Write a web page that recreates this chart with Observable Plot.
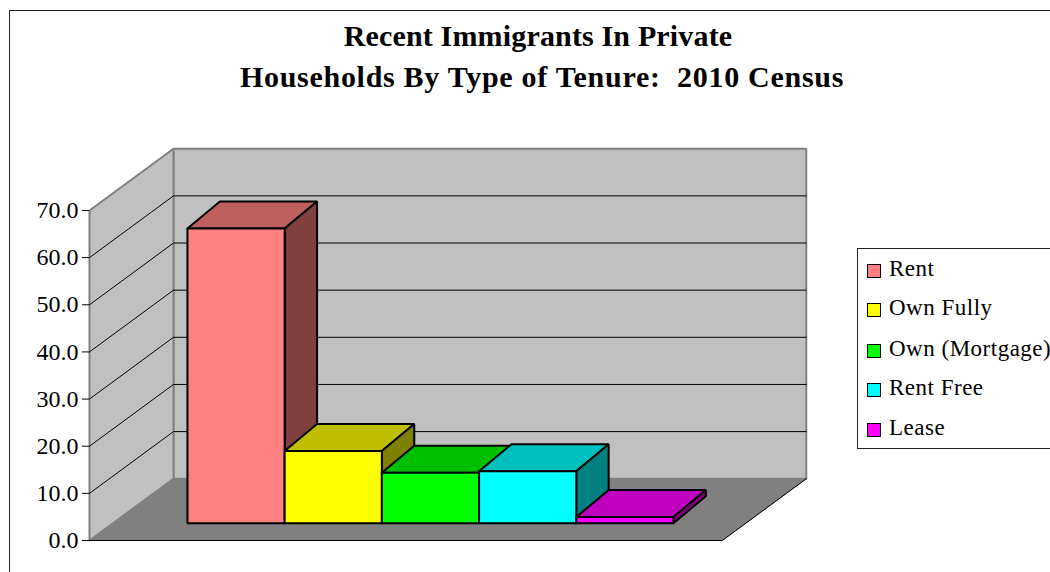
<!DOCTYPE html>
<html><head><meta charset="utf-8">
<script src="https://cdn.jsdelivr.net/npm/d3@7"></script>
<script src="https://cdn.jsdelivr.net/npm/@observablehq/plot@0.6"></script>
<style>
html,body{margin:0;padding:0;background:#fff;width:1050px;height:572px;overflow:hidden;font-family:"Liberation Serif",serif;color:#000}
#frame{position:absolute;left:9px;top:10px;width:1200px;height:700px;border:1.5px solid #222;box-sizing:border-box}
#chart{position:absolute;left:0;top:0}
#title{position:absolute;left:9px;width:1066px;top:15px;text-align:center;font-weight:bold;font-size:30px;line-height:41px;white-space:pre}
#title div:nth-child(1){letter-spacing:.16px;margin-left:-8px}
#title div:nth-child(2){letter-spacing:.71px}
#legend{position:absolute;left:857px;top:248px;width:260px;height:201px;border:1.5px solid #222;box-sizing:border-box;background:#fff}
#legend .row{position:absolute;left:0;height:24px;white-space:pre}
#legend .sw{position:absolute;left:8.5px;top:5px;width:14px;height:14px;border:1.5px solid #000;box-sizing:border-box}
#legend .lb{position:absolute;left:31px;top:-4px;font-size:23px;line-height:28px;letter-spacing:.5px}
</style></head><body>
<div id="frame"></div>
<div id="chart"></div>
<div id="title"></div>
<div id="legend"></div>
<script>
const titleLines = ["Recent Immigrants In Private", "Households By Type of Tenure:  2010 Census"];
const categories = ["Rent", "Own Fully", "Own (Mortgage)", "Rent Free", "Lease"];
const values = [62.5, 15.3, 10.7, 11.0, 1.3];
const frontColors = ["#FF8080", "#FFFF00", "#00FF00", "#00FFFF", "#FF00FF"];
const topColors = ["#BF6060", "#BFBF00", "#00BF00", "#00BFBF", "#BF00BF"];
const sideColors = ["#804040", "#808000", "#008000", "#008080", "#800080"];
const yTicks = [0, 10, 20, 30, 40, 50, 60, 70];

// Oblique projection in data units: a depth shift in x (category units) and in y (value units).
const wallDX = 0.864, wallDY = 13.1;
const xLeft = -0.77, xRight = 5.74, yMax = 70;
const barFront = [0.2377, 3.67], barBack = [0.571, 9.4], wall = [wallDX, wallDY], front = [0, 0];
const P = (i, v, s) => ({x: i + s[0], y: v + s[1]});
const poly = (id, fill, pts) => [...pts, pts[0]].map(p => ({...p, id, fill}));

const back = poly("back", "#C0C0C0", [P(xLeft,0,wall), P(xRight,0,wall), P(xRight,yMax,wall), P(xLeft,yMax,wall)]);
const left = poly("left", "#C0C0C0", [P(xLeft,0,front), P(xLeft,0,wall), P(xLeft,yMax,wall), P(xLeft,yMax,front)]);
const floor = poly("floor", "#808080", [P(xLeft,0,front), P(xRight,0,front), P(xRight,0,wall), P(xLeft,0,wall)]);
const grid = yTicks.slice(1, -1).flatMap(t => [P(xLeft,t,front), P(xLeft,t,wall), P(xRight,t,wall)].map(p => ({...p, id: t})));
const floorEdge = [P(xLeft,0,front), P(xRight,0,front), P(xRight,0,wall)];

const bars = categories.flatMap((c, i) => {
  const v = values[i], a = i, b = i + 1;
  return [
    ...poly(c + "-top", topColors[i], [P(a,v,barFront), P(b,v,barFront), P(b,v,barBack), P(a,v,barBack)]),
    ...poly(c + "-side", sideColors[i], [P(b,0,barFront), P(b,0,barBack), P(b,v,barBack), P(b,v,barFront)]),
    ...poly(c + "-front", frontColors[i], [P(a,0,barFront), P(b,0,barFront), P(b,v,barFront), P(a,v,barFront)])
  ];
});

const shape = (data, o) => Plot.line(data, {x: "x", y: "y", z: "id", fill: "fill", strokeLinejoin: "miter", ...o});

const plot = Plot.plot({
  width: 1050, height: 572,
  marginLeft: 89, marginRight: 245, marginTop: 148, marginBottom: 32,
  style: {background: "transparent", fontFamily: "Liberation Serif, serif"},
  x: {domain: [xLeft, 6.596], axis: null},
  y: {domain: [0, 83.15], axis: null},
  marks: [
    shape(back, {stroke: "#808080", strokeWidth: 2}),
    shape(left, {stroke: "#808080", strokeWidth: 2}),
    shape(floor, {stroke: "#808080", strokeWidth: 1}),
    Plot.line(grid, {x: "x", y: "y", z: "id", stroke: "#000", strokeWidth: 1}),
    Plot.line(floorEdge, {x: "x", y: "y", stroke: "#000", strokeWidth: 1}),
    shape(bars, {stroke: "#000", strokeWidth: 2}),
    Plot.axisY({
      ticks: yTicks, tickSize: 7, tickPadding: 4, tickFormat: d3.format(".1f"),
      label: null, fontSize: 24, color: "#000", stroke: "#000", fill: "#000"
    })
  ]
});
document.getElementById("chart").append(plot);

const titleEl = document.getElementById("title");
titleLines.forEach(t => { const d = document.createElement("div"); d.textContent = t; titleEl.append(d); });
const legendTops = [10, 49, 90, 129, 169];
const legend = document.getElementById("legend");
categories.forEach((c, i) => {
  const row = document.createElement("div");
  row.className = "row";
  row.style.top = legendTops[i] + "px";
  const sw = document.createElement("div");
  sw.className = "sw"; sw.style.background = frontColors[i];
  const lb = document.createElement("div");
  lb.className = "lb"; lb.textContent = c;
  row.append(sw, lb);
  legend.append(row);
});
</script>
</body></html>
